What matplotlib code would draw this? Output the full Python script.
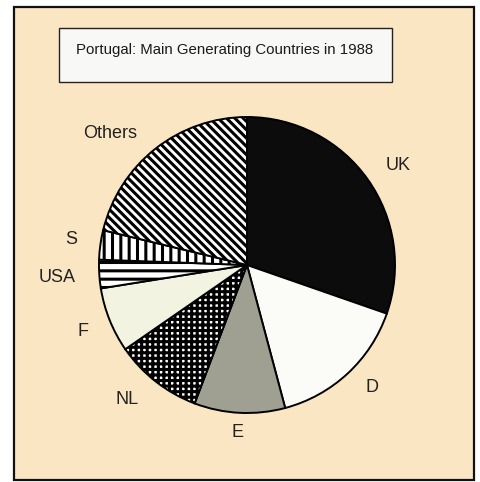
import matplotlib.pyplot as plt
from matplotlib.patches import Rectangle

plt.rcParams['font.family'] = ['Liberation Sans', 'DejaVu Sans']
plt.rcParams['hatch.linewidth'] = 2.2

# share of generating countries, clockwise from the top
countries = ["UK", "D", "E", "NL", "F", "USA", "S", "Others"]
shares = [30.3, 15.5, 9.9, 9.6, 7.1, 3.1, 3.2, 21.2]
fills = ["#0c0c0c", "#fbfbf8", "#a0a092", "#ffffff", "#f3f3e2", "#ffffff", "#ffffff", "#ffffff"]
hatches = [None, None, None, "+++", None, "--", "||", "\\\\\\\\"]
# label centres in pixels from the top-left corner
label_xy = [(398, 165), (372, 388), (238, 433), (127, 400),
            (83, 332), (57, 278), (71, 239), (110, 133)]

title = "Portugal: Main Generating Countries in 1988"

W, H = 481, 482
fig = plt.figure(figsize=(W / 100, H / 100), dpi=100)
fig.patch.set_facecolor("white")
ax = fig.add_axes([0, 0, 1, 1])

cx, cy, r = 247, H - 265, 148
wedges, _ = ax.pie(shares, colors=fills, startangle=90, counterclock=False,
                   center=(cx, cy), radius=r, frame=True,
                   wedgeprops=dict(edgecolor="black", linewidth=1.4))
ax.set_xlim(0, W)
ax.set_ylim(0, H)
ax.set_aspect("equal")
ax.axis("off")

# beige panel with a dark frame
ax.add_patch(Rectangle((14, H - 480), 460, 473, facecolor="#fbe6c4",
                       edgecolor="#111111", lw=1.6, zorder=0))

# title box
ax.add_patch(Rectangle((59, H - 82), 333, 54, facecolor="#f8f8f6",
                       edgecolor="#222222", lw=1.0, zorder=1))
ax.text(225, H - 50, title, ha="center", va="center", fontsize=10.8,
        color="#1a1a1a", zorder=2)

for w, h in zip(wedges, hatches):
    if h:
        w.set_hatch(h)
        if h.startswith("+") and hasattr(w, "set_hatch_linewidth"):
            w.set_hatch_linewidth(2.2)
    w.set_zorder(3)

for name, (x, y) in zip(countries, label_xy):
    ax.text(x, H - y, name, ha="center", va="center", fontsize=13,
            color="#222222")

fig.savefig("out.png", dpi=100)
